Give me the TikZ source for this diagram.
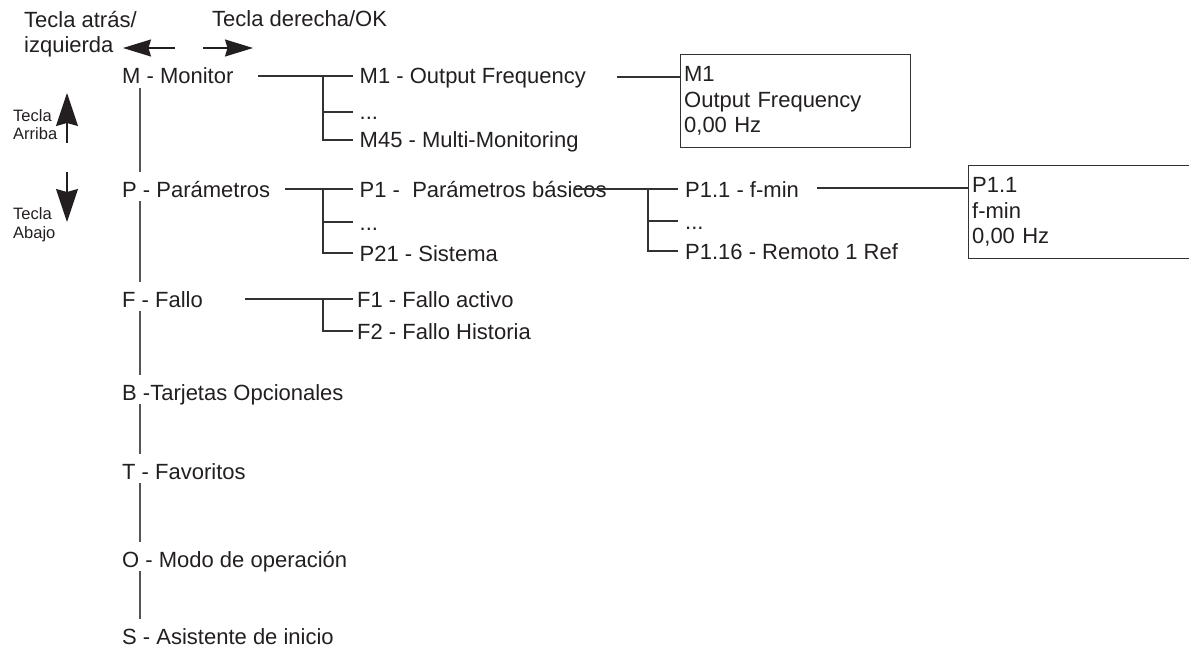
\documentclass[tikz,border=0pt]{standalone}
\usepackage{fontspec}
\setmainfont{Liberation Sans}
\usetikzlibrary{arrows.meta}
\definecolor{ink}{RGB}{35,31,32}
\definecolor{lineink}{RGB}{50,50,50}
\definecolor{colink}{RGB}{85,85,85}
\begin{document}
\begin{tikzpicture}[x=1pt,y=-1pt,
  every node/.style={text=ink},
  mainfont/.style={font=\fontsize{22}{25.5}\selectfont},
  col/.style={mainfont, anchor=base west, inner sep=0pt},
  item/.style={mainfont, anchor=west, inner xsep=6.5pt, inner ysep=0pt, text height=16pt, text depth=0pt},
  toplab/.style={font=\fontsize{22}{25}\selectfont, anchor=base west, inner sep=0pt},
  keylab/.style={font=\fontsize{16.5}{18.5}\selectfont, anchor=base west, inner sep=0pt, align=left},
  conn/.style={draw=lineink, line width=1.2pt},
  vline/.style={draw=colink, line width=1.9pt},
  screen/.style={mainfont, draw=lineink, line width=1.3pt, anchor=north west, align=left,
    minimum height=93pt, inner xsep=3.5pt, inner ysep=0pt},
  harrow/.style={draw=ink, line width=1.3pt, -{Stealth[length=28pt,width=17pt,inset=2.5pt]}},
  varrow/.style={draw=ink, line width=1.3pt, -{Stealth[length=33pt,width=22pt,inset=3pt]}}
]
\useasboundingbox (0,0) rectangle (1189,650);
\clip (0,0) rectangle (1189,650);

% key labels and arrows
\node[toplab] (lt1) at (24,28) {Tecla atrás/};
\node[toplab] (lt2) at (24,53) {izquierda};
\node[toplab] (rt) at (212,27) {Tecla derecha/OK};
\coordinate (la0) at (175,48); \coordinate (la1) at (123,48);
\coordinate (ra0) at (203,48); \coordinate (ra1) at (253,48);
\draw[harrow] (la0) -- (la1);
\draw[harrow] (ra0) -- (ra1);
\node[keylab] (up) at (13,140) {Tecla\\Arriba};
\node[keylab] (dn) at (13,238) {Tecla\\Abajo};
\coordinate (ua0) at (67,143); \coordinate (ua1) at (67,93);
\coordinate (da0) at (67,172); \coordinate (da1) at (67,222);
\draw[varrow] (ua0) -- (ua1);
\draw[varrow] (da0) -- (da1);

% main column
\coordinate (V) at (140,0);
\node[col] (M) at (122,84) {M - Monitor};
\node[col] (P) at (122,197) {P - Parámetros};
\node[col] (F) at (122,307) {F - Fallo};
\node[col] (B) at (122,400) {B -Tarjetas Opcionales};
\node[col] (T) at (122,479) {T - Favoritos};
\node[col] (O) at (122,567) {O - Modo de operación};
\node[col] (S) at (122,644) {S - Asistente de inicio};
\foreach \a/\b in {M/P,P/F,F/B,B/T,T/O,O/S}
  \draw[vline] ([yshift=-4pt]\a.base -| V) -- ([yshift=25pt]\b.base -| V);

% M branch
\coordinate (ms) at (258,76);
\coordinate (mj) at (323,76);
\node[item] (M1) at (353,76) {M1 - Output Frequency};
\node[item] (Md) at (353,112) {...};
\node[item] (M45) at (353,140) {M45 - Multi-Monitoring};
\draw[conn] (ms) -- (M1.west);
\draw[conn] (mj) |- (M45.west);
\draw[conn] (mj |- Md.west) -- (Md.west);
\node[screen, text width=223pt] (M1box) at (680,54) {M1\\Output Frequency\\0,00 Hz};
\coordinate (m1s) at (617,77);
\draw[conn] (m1s) -- (m1s -| M1box.west);

% P branch
\coordinate (ps) at (285,189);
\coordinate (pj) at (323,189);
\node[item] (P1) at (353,189) {P1 - \ Parámetros básicos};
\node[item] (Pd) at (353,222) {...};
\node[item] (P21) at (353,253) {P21 - Sistema};
\draw[conn] (ps) -- (P1.west);
\draw[conn] (pj) |- (P21.west);
\draw[conn] (pj |- Pd.west) -- (Pd.west);

% P1 branch
\coordinate (p1s) at (574,189);
\coordinate (p1j) at (648,189);
\node[item, inner xsep=7pt] (P11) at (678,189) {P1.1 - f-min};
\node[item, inner xsep=7pt] (P1d) at (678,221) {...};
\node[item, inner xsep=7pt] (P116) at (678,251) {P1.16 - Remoto 1 Ref};
\draw[conn] (p1s) -- (P11.west);
\draw[conn] (p1j) |- (P116.west);
\draw[conn] (p1j |- P1d.west) -- (P1d.west);
\node[screen, text width=253pt] (P11box) at (968,165) {P1.1\\f-min\\0,00 Hz};
\coordinate (p11s) at (817,188);
\draw[conn] (p11s) -- (p11s -| P11box.west);

% F branch
\coordinate (fs) at (245,299);
\coordinate (fj) at (323,299);
\node[item, inner xsep=4pt] (F1) at (353,299) {F1 - Fallo activo};
\node[item, inner xsep=4pt] (F2) at (353,331) {F2 - Fallo Historia};
\draw[conn] (fs) -- (F1.west);
\draw[conn] (fj) |- (F2.west);
\end{tikzpicture}
\end{document}
